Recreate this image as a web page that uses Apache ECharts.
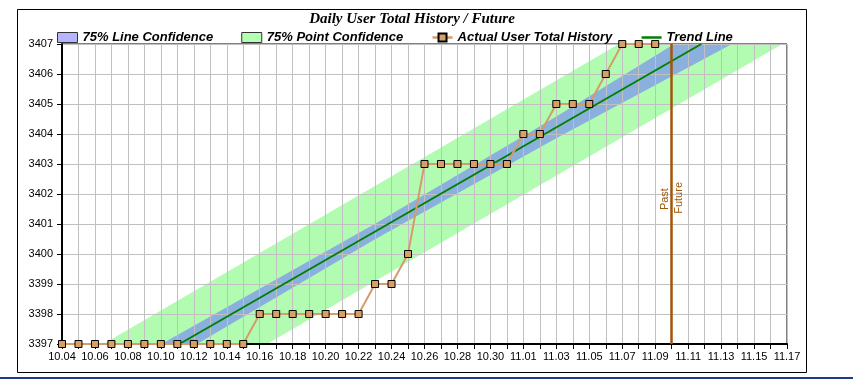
<!DOCTYPE html>
<html>
<head>
<meta charset="utf-8">
<script src="https://cdn.jsdelivr.net/npm/echarts@6/dist/echarts.min.js"></script>
<style>
html,body{margin:0;padding:0;background:#fff;}
#chart{width:853px;height:379px;}
</style>
</head>
<body>
<div id="chart"></div>
<script>
// ---- data ----
const categories = [
  '10.04','10.05','10.06','10.07','10.08','10.09','10.10','10.11','10.12','10.13',
  '10.14','10.15','10.16','10.17','10.18','10.19','10.20','10.21','10.22','10.23',
  '10.24','10.25','10.26','10.27','10.28','10.29','10.30','10.31',
  '11.01','11.02','11.03','11.04','11.05','11.06','11.07','11.08','11.09','11.10',
  '11.11','11.12','11.13','11.14','11.15','11.16','11.17'
];
const historyValues = [
  3397,3397,3397,3397,3397,3397,3397,3397,3397,3397,3397,3397,
  3398,3398,3398,3398,3398,3398,3398,
  3399,3399,3400,
  3403,3403,3403,3403,3403,3403,
  3404,3404,3405,3405,3405,3406,3407,3407,3407
];
const trendX = [7.13, 38.8];
const trendY = [3397, 3407];
const pointConfX = [0, 44];
const pointConfUpper = [3396.20, 3410.26];
const pointConfLower = [3393.02, 3407.09];
const lineConfX = [6, 19, 30, 41];
const lineConfUpper = [3396.99, 3401.01, 3404.58, 3408.30];
const lineConfLower = [3396.29, 3400.49, 3403.86, 3407.10];
const dividerIndex = 37;
const dividerLabels = ['Past', 'Future'];
const dividerLabelValues = [3401.83, 3401.87];
const yMin = 3397, yMax = 3407;
const titleText = 'Daily User Total History / Future';
const seriesNames = ['75% Line Confidence', '75% Point Confidence', 'Actual User Total History', 'Trend Line'];

// ---- chart ----
const chart = echarts.init(document.getElementById('chart'), null, {renderer: 'canvas'});

function bandRenderer(xs, upper, lower, fill) {
  return function (params, api) {
    if (params.dataIndex !== 0) return null;
    const pts = [];
    for (let i = 0; i < xs.length; i++) pts.push(api.coord([xs[i], upper[i]]));
    for (let i = xs.length - 1; i >= 0; i--) pts.push(api.coord([xs[i], lower[i]]));
    return {type: 'polygon', shape: {points: pts}, style: {fill: fill}, silent: true};
  };
}

const brown = '#a0560a';

const option = {
  animation: false,
  backgroundColor: '#ffffff',
  legend: {
    left: 52,
    top: 26,
    itemGap: 28,
    itemWidth: 20,
    itemHeight: 10,
    textStyle: {fontFamily: 'Liberation Sans', fontStyle: 'italic', fontWeight: 'bold', fontSize: 13, color: '#000'},
    data: [
      {name: seriesNames[0], icon: 'rect', itemStyle: {color: '#b4b4ff', borderColor: '#333', borderWidth: 1}},
      {name: seriesNames[1], icon: 'rect', itemStyle: {color: '#b4ffb4', borderColor: '#333', borderWidth: 1}},
      {name: seriesNames[2], lineStyle: {width: 2.5}},
      {name: seriesNames[3], itemStyle: {opacity: 0}, lineStyle: {width: 2.5}}
    ]
  },
  grid: {left: 62, right: 66, top: 44, bottom: 35, show: true, borderColor: '#000', borderWidth: 1},
  xAxis: {
    type: 'value', min: 0, max: categories.length - 1, interval: 1,
    axisLine: {show: true, onZero: false, lineStyle: {color: '#000', width: 2}},
    axisTick: {show: true, length: 5, lineStyle: {color: '#000'}},
    axisLabel: {
      fontFamily: 'Liberation Sans', fontSize: 11, color: '#000', margin: 7,
      formatter: function (v) { return (v % 2 === 0) ? categories[v] : ''; }
    },
    splitLine: {show: true, lineStyle: {color: '#c0c0c0', width: 1}}
  },
  yAxis: {
    type: 'value', min: yMin, max: yMax, interval: 1,
    axisLine: {show: true, onZero: false, lineStyle: {color: '#000', width: 2}},
    axisTick: {show: true, length: 5, lineStyle: {color: '#000'}},
    axisLabel: {fontFamily: 'Liberation Sans', fontSize: 11, color: '#000', margin: 9,
      formatter: function (v) { return String(v); }},
    splitLine: {show: true, lineStyle: {color: '#c0c0c0', width: 1}}
  },
  series: [
    {
      name: seriesNames[1], type: 'custom', z: -2, clip: true,
      itemStyle: {color: '#b4ffb4'},
      renderItem: bandRenderer(pointConfX, pointConfUpper, pointConfLower, '#b2fcb2'),
      data: pointConfX.map((x, i) => [x, pointConfUpper[i]])
    },
    {
      name: seriesNames[0], type: 'custom', z: -1, clip: true,
      itemStyle: {color: '#b4b4ff'},
      renderItem: bandRenderer(lineConfX, lineConfUpper, lineConfLower, '#8cb0de'),
      data: lineConfX.map((x, i) => [x, lineConfUpper[i]])
    },
    {
      name: seriesNames[3], type: 'line', z: 3,
      symbol: 'none',
      lineStyle: {color: '#008000', width: 2},
      itemStyle: {color: '#008000'},
      data: trendX.map((x, i) => [x, trendY[i]]),
      markLine: {
        silent: true, symbol: 'none',
        lineStyle: {color: brown, width: 2.5, type: 'solid'},
        label: {show: false},
        data: [{xAxis: dividerIndex}]
      }
    },
    {
      name: seriesNames[2], type: 'line', z: 4,
      symbol: 'rect', symbolSize: 7,
      lineStyle: {color: '#d49c6b', width: 2},
      itemStyle: {color: '#d9a066', borderColor: '#000', borderWidth: 1},
      data: historyValues.map((v, i) => [i, v])
    }
  ],
  graphic: [
    {type: 'text', z: 100, silent: true, x: 412, y: 19,
      style: {text: titleText, textAlign: 'center', textVerticalAlign: 'middle',
        font: 'italic bold 15px "Liberation Serif"', fill: '#000'}},
    {type: 'rect', z: 100, silent: true, shape: {x: 17.5, y: 9.5, width: 789, height: 363}, style: {fill: null, stroke: '#000', lineWidth: 1}},
    {type: 'rect', z: 100, silent: true, shape: {x: 0, y: 377, width: 853, height: 2}, style: {fill: '#1b3d89'}}
  ]
};
chart.setOption(option);

// divider labels positioned through the axes' scales
const pPast = chart.convertToPixel({gridIndex: 0}, [dividerIndex, dividerLabelValues[0]]);
const pFuture = chart.convertToPixel({gridIndex: 0}, [dividerIndex, dividerLabelValues[1]]);
chart.setOption({
  graphic: [
    {type: 'text', id: 'past', z: 50, silent: true, x: pPast[0] - 7, y: pPast[1], rotation: Math.PI / 2,
      style: {text: dividerLabels[0], textAlign: 'center', textVerticalAlign: 'middle',
        font: '11px "Liberation Sans"', fill: brown}},
    {type: 'text', id: 'future', z: 50, silent: true, x: pFuture[0] + 7, y: pFuture[1], rotation: Math.PI / 2,
      style: {text: dividerLabels[1], textAlign: 'center', textVerticalAlign: 'middle',
        font: '11px "Liberation Sans"', fill: brown}}
  ]
});
</script>
</body>
</html>
